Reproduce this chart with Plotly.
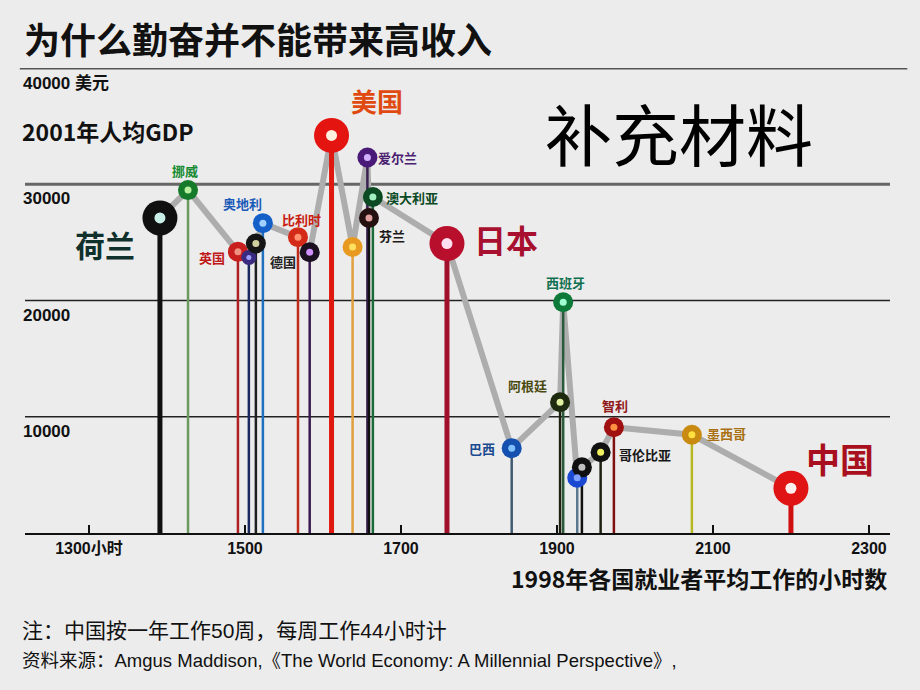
import plotly.graph_objects as go

# ---------------- data ----------------
countries = ["荷兰", "挪威", "英国", "", "", "奥地利", "比利时", "德国", "美国", "",
             "爱尔兰", "芬兰", "澳大利亚", "日本", "巴西", "阿根廷", "西班牙", "", "",
             "哥伦比亚", "智利", "墨西哥", "中国"]
hours = [1391, 1427, 1491, 1505, 1514, 1523, 1568, 1583, 1611, 1638,
         1657, 1659, 1664, 1759, 1842, 1904, 1908, 1926, 1932,
         1956, 1973, 2073, 2200]
gdp = [27100, 29500, 24200, 23700, 24900, 26650, 25450, 24150, 34200, 24600,
       32300, 27100, 28900, 24900, 7300, 11250, 19850, 4750, 5650,
       6950, 9100, 8450, 3850]

x_tick_vals = [1300, 1500, 1700, 1900, 2100, 2300]
x_tick_text = ["1300小时", "1500", "1700", "1900", "2100", "2300"]
y_grid_vals = [10000, 20000, 30000, 40000]
y_grid_text = ["10000", "20000", "30000", "40000 美元"]

title_text = "为什么勤奋并不能带来高收入"
ylabel_text = "2001年人均GDP"
xlabel_text = "1998年各国就业者平均工作的小时数"
stamp_text = "补充材料"
note1 = "注：中国按一年工作50周，每周工作44小时计"
note2 = "资料来源：Amgus Maddison,《The World Economy: A Millennial Perspective》,"

# ---------------- styles ----------------
ring_col = ["#101010", "#157a2a", "#c81e1e", "#3a2a80", "#151515", "#1560c8", "#d42a18",
            "#1a1020", "#e41410", "#e89a20", "#4a1a78", "#241010", "#0c4a24", "#b8102c",
            "#1450b0", "#1e2a10", "#0e7a3a", "#1a48d0", "#101010", "#101010", "#a01010",
            "#c88a10", "#e01414"]
hole_col = ["#c8f0e8", "#b8f0a0", "#f09080", "#a0a0ff", "#d0d0a0", "#a0d0ff", "#ff9070",
            "#d090ff", "#fff0e0", "#ffe060", "#d0b0ff", "#e0a0a0", "#a0f0c0", "#ffe0f0",
            "#80c0ff", "#e0f0a0", "#a0ffd0", "#80a0ff", "#c0c0c0", "#f0f060", "#ff9040",
            "#ffe040", "#fff0f0"]
stem_col = ["#101010", "#6a9a60", "#b02020", "#1a2a60", "#202020", "#2070c0", "#c02a18",
            "#3a1a50", "#e01810", "#e0a040", "#3a2050", "#101010", "#1a6a3a", "#a0102a",
            "#405870", "#202010", "#2a5a3a", "#5a7890", "#101010", "#202010", "#801010",
            "#b8b820", "#d01010"]
big = {0, 8, 13, 22}
outer = [35 if i in big else (15 if i == 3 else 20) for i in range(len(hours))]
inner = [11 if i in big else (5 if i == 3 else 7) for i in range(len(hours))]
stem_w = [5 if i in big else 2.5 for i in range(len(hours))]

# label style: (xshift, yshift, xanchor, size, color)
lab_style = {
    "荷兰": (-55, -26, "center", 30, "#10302c"),
    "挪威": (-3, 20, "center", 13, "#158a30"),
    "英国": (-26, -6, "center", 13, "#c01818"),
    "奥地利": (-20, 20, "center", 13, "#1a5ab8"),
    "比利时": (4, 18, "center", 13, "#c82010"),
    "德国": (-27, -9, "center", 13, "#202020"),
    "美国": (45, 35, "center", 26, "#e04a10"),
    "爱尔兰": (9, 0, "left", 13, "#4a2070"),
    "芬兰": (23, -18, "center", 13, "#201818"),
    "澳大利亚": (11, 0, "left", 13, "#0a4a24"),
    "日本": (25, 5, "left", 32, "#a81030"),
    "巴西": (-15, 0, "right", 13, "#1a4a90"),
    "阿根廷": (-33, 17, "center", 13, "#4a4a10"),
    "西班牙": (2, 20, "center", 13, "#107050"),
    "哥伦比亚": (16, -2, "left", 13, "#181818"),
    "智利": (1, 22, "center", 13, "#901818"),
    "墨西哥": (13, 1, "left", 13, "#a87010"),
    "中国": (49, 30, "center", 34, "#a81020"),
}

BG = "#ececec"
CJK = "Noto Sans CJK SC"
NARROW = "Liberation Sans Narrow, Liberation Sans, Noto Sans CJK SC"

W, H = 920, 690
ML, MR, MT, MB = 25, 30, 68, 157
PX0, PX1 = 1218, 2327  # x range


def px2paper(px, py):
    return (px - ML) / (W - ML - MR), (H - MB - py) / (H - MT - MB)


fig = go.Figure()

# connecting grey line (sorted by hours)
order = sorted(range(len(hours)), key=lambda i: hours[i])
fig.add_trace(go.Scatter(x=[hours[i] for i in order], y=[gdp[i] for i in order],
                         mode="lines", line=dict(color="#adadad", width=6),
                         hoverinfo="skip", showlegend=False))

# stems
for i in range(len(hours)):
    fig.add_trace(go.Scatter(x=[hours[i], hours[i]], y=[0, gdp[i]], mode="lines",
                             line=dict(color=stem_col[i], width=stem_w[i]),
                             hoverinfo="skip", showlegend=False))

# rings: outer disc + inner hole
fig.add_trace(go.Scatter(
    x=hours, y=gdp, mode="markers", text=countries, hoverinfo="text+x+y",
    marker=dict(symbol="circle", size=outer, color=ring_col, opacity=1,
                line=dict(width=0)),
    showlegend=False))
fig.add_trace(go.Scatter(
    x=hours, y=gdp, mode="markers", hoverinfo="skip",
    marker=dict(symbol="circle", size=inner, color=hole_col, opacity=1,
                line=dict(width=0)),
    showlegend=False))

annotations = []
for i, name in enumerate(countries):
    if not name:
        continue
    dx, dy, xa, sz, col = lab_style[name]
    annotations.append(dict(x=hours[i], y=gdp[i], xref="x", yref="y", text=name,
                            showarrow=False, xshift=dx, yshift=dy, xanchor=xa,
                            yanchor="middle",
                            font=dict(family=CJK, size=sz, color=col, weight="bold")))

# y grid labels
for v, t in zip(y_grid_vals, y_grid_text):
    annotations.append(dict(x=0, xref="paper", y=v, yref="y", text=t, showarrow=False,
                            xanchor="left", yanchor="top", xshift=-4, yshift=-3,
                            font=dict(family=NARROW, size=17, color="#111", weight="bold")))

# texts around
tx, ty = px2paper(22, 38)
annotations.append(dict(x=tx, y=ty, xref="paper", yref="paper", text=title_text,
                        showarrow=False, xanchor="left", yanchor="middle",
                        font=dict(family=CJK, size=36, color="#111", weight="bold")))
tx, ty = px2paper(20, 131)
annotations.append(dict(x=tx, y=ty, xref="paper", yref="paper", text=ylabel_text,
                        showarrow=False, xanchor="left", yanchor="middle",
                        font=dict(family=CJK, size=23, color="#111", weight="bold")))
tx, ty = px2paper(679, 131)
annotations.append(dict(x=tx, y=ty, xref="paper", yref="paper", text=stamp_text,
                        showarrow=False, xanchor="center", yanchor="middle",
                        font=dict(family=CJK, size=67, color="#000")))
tx, ty = px2paper(889, 578)
annotations.append(dict(x=tx, y=ty, xref="paper", yref="paper", text=xlabel_text,
                        showarrow=False, xanchor="right", yanchor="middle",
                        font=dict(family=CJK, size=23, color="#111", weight="bold")))
tx, ty = px2paper(20, 630)
annotations.append(dict(x=tx, y=ty, xref="paper", yref="paper", text=note1,
                        showarrow=False, xanchor="left", yanchor="middle",
                        font=dict(family=NARROW, size=21, color="#111")))
tx, ty = px2paper(20, 660)
annotations.append(dict(x=tx, y=ty, xref="paper", yref="paper", text=note2,
                        showarrow=False, xanchor="left", yanchor="middle",
                        font=dict(family=NARROW, size=18.5, color="#111")))

shapes = []
for v in y_grid_vals:
    if v == 40000:
        shapes.append(dict(type="line", xref="paper", yref="y", x0=-0.006, x1=1.02,
                           y0=v, y1=v, line=dict(color="#555", width=3), layer="below"))
    elif v == 30000:
        shapes.append(dict(type="line", xref="paper", yref="y", x0=0, x1=1,
                           y0=v, y1=v, line=dict(color="#666", width=3), layer="below"))
    else:
        shapes.append(dict(type="line", xref="paper", yref="y", x0=0, x1=1,
                           y0=v, y1=v, line=dict(color="#222", width=1.6), layer="below"))

fig.update_layout(
    width=W, height=H, autosize=False,
    margin=dict(l=ML, r=MR, t=MT, b=MB),
    paper_bgcolor=BG, plot_bgcolor=BG,
    xaxis=dict(range=[PX0, PX1], tickvals=x_tick_vals, ticktext=x_tick_text,
               showgrid=False, zeroline=False, showline=True, linecolor="#111",
               linewidth=2, ticks="inside", ticklen=8, tickcolor="#111", tickwidth=1.5,
               tickfont=dict(family=NARROW, size=16, color="#111", weight="bold"),
               fixedrange=True),
    yaxis=dict(range=[0, 40000], showgrid=False, zeroline=False, showline=False,
               showticklabels=False, ticks="", fixedrange=True),
    annotations=annotations, shapes=shapes, showlegend=False,
)

fig.write_html("out.html")
